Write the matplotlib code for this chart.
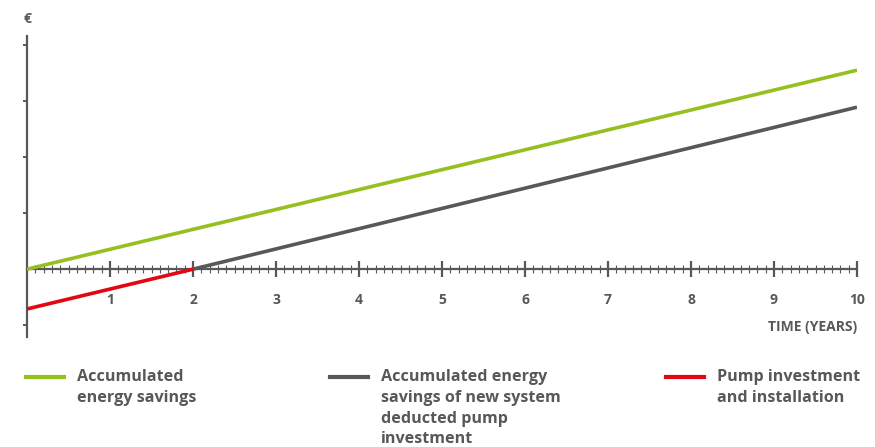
import matplotlib
matplotlib.use("Agg")
import matplotlib.pyplot as plt
from matplotlib.lines import Line2D
from matplotlib.ticker import MultipleLocator

# accumulated savings over time (arbitrary € units)
years = [0, 10]
savings = [0.0, 3.55]

# payback: investment is recovered after two years
payback_years = [2, 10]
net_savings = [0.0, 2.89]

invest_years = [0, 2]
investment = [-0.71, 0.0]

GREEN = "#95c11f"
GREY = "#58585a"
RED = "#e30613"
TXT = "#58585a"

plt.rcParams["font.family"] = ["Open Sans", "DejaVu Sans"]

W, H = 875, 447
fig = plt.figure(figsize=(W / 100, H / 100), dpi=100)
ax = fig.add_axes([27 / W, (H - 337) / H, 830 / W, 301 / H])

ax.plot(years, savings, color=GREEN, lw=2.6, solid_capstyle="butt", zorder=3)
ax.plot(payback_years, net_savings, color=GREY, lw=2.6, solid_capstyle="butt", zorder=3)
ax.plot(invest_years, investment, color=RED, lw=2.6, solid_capstyle="butt", zorder=3)

ax.set_xlim(0, 10)
ax.set_ylim(-1.21, 4.16)

for s in ("top", "right"):
    ax.spines[s].set_visible(False)
ax.spines["bottom"].set_position(("data", 0))
ax.spines["bottom"].set_color(GREY)
ax.spines["bottom"].set_linewidth(1.6)
ax.spines["left"].set_color(GREY)
ax.spines["left"].set_linewidth(1.6)

ax.xaxis.set_major_locator(MultipleLocator(1))
ax.xaxis.set_minor_locator(MultipleLocator(0.1))
ax.tick_params(axis="x", which="major", direction="inout", length=12, width=1.6,
               color=GREY, pad=11, labelsize=10, labelcolor=TXT)
ax.tick_params(axis="x", which="minor", direction="inout", length=6, width=0.8, color=GREY)
ax.set_xticks(range(1, 11))
ax.set_xticklabels([str(i) for i in range(1, 11)], fontweight="bold")

ax.set_yticks([-1, 1, 2, 3, 4])
ax.set_yticklabels([])
ax.tick_params(axis="y", direction="out", length=3, width=1.4, color=GREY)

fig.text(27 / W, 1 - 19 / H, "€", ha="center", va="center", fontsize=10,
         fontweight="bold", color=TXT)
fig.text(857 / W, 1 - 327 / H, "TIME (YEARS)", ha="right", va="center",
         fontsize=10, fontweight="bold", color=TXT)

# legend drawn by hand so the columns sit where they should
legend = [
    (26, GREEN, "Accumulated\nenergy savings"),
    (330, GREY, "Accumulated energy\nsavings of new system\ndeducted pump\ninvestment"),
    (666, RED, "Pump investment\nand installation"),
]
for x0, col, label in legend:
    fig.add_artist(Line2D([x0 / W, (x0 + 38) / W], [1 - 377 / H] * 2,
                          color=col, lw=3, transform=fig.transFigure))
    fig.text((x0 + 51) / W, 1 - 369 / H, label, ha="left", va="top",
             fontsize=11.6, fontweight="bold", color=TXT, linespacing=1.4)

fig.savefig("out.png", dpi=100)
